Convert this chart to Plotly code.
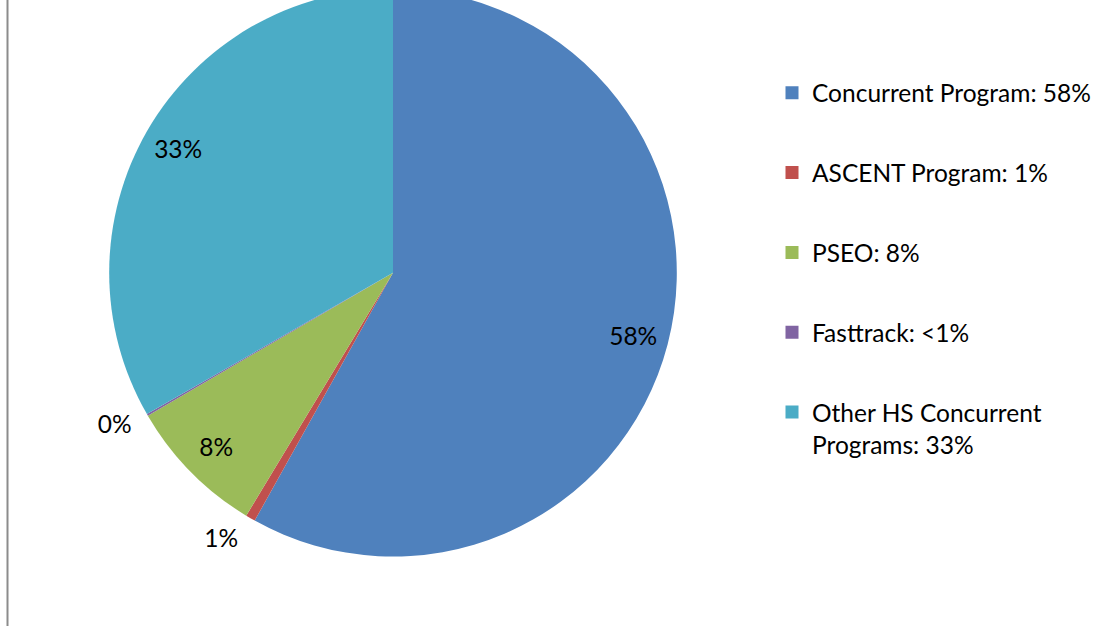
import plotly.graph_objects as go

# ---- data ----
categories = ["Concurrent Program", "ASCENT Program", "PSEO", "Fasttrack",
              "Other HS Concurrent Programs"]
values = [58.1, 0.55, 7.95, 0.1, 33.3]
legend_labels = ["Concurrent Program: 58%", "ASCENT Program: 1%", "PSEO: 8%",
                 "Fasttrack: <1%", "Other HS Concurrent<br>Programs: 33%"]
colors = ["#4F81BD", "#C0504D", "#9BBB59", "#8064A2", "#4BACC6"]
label_positions = ["inside", "outside", "inside", "outside", "inside"]

# ---- layout geometry ----
W, H = 1111, 652
SHIFT = 26            # top of the pie is cropped off by the window
cx, cy, r = 393, 270 + SHIFT, 286
r_lab = 296           # label ring slightly larger so outside labels sit further out


def dom(rad):
    return (dict(x=[(cx - rad) / W, (cx + rad) / W],
                 y=[1 - (cy + rad) / H, 1 - (cy - rad) / H]))


FONT = "Lato"
FS = 24.5

fig = go.Figure()

# solid pie
fig.add_trace(go.Pie(
    labels=categories, values=values, sort=False, direction="clockwise",
    rotation=0, marker=dict(colors=colors, line=dict(width=0)),
    textinfo="none", showlegend=False, domain=dom(r),
    hovertemplate="%{label}: %{percent:.0%}<extra></extra>",
))

# transparent ring carrying the data labels near the rim
fig.add_trace(go.Pie(
    labels=categories, values=values, sort=False, direction="clockwise",
    rotation=0, hole=0.69,
    marker=dict(colors=["rgba(0,0,0,0)"] * len(values), line=dict(width=0)),
    texttemplate="%{percent:.0%}", textposition=label_positions,
    insidetextorientation="horizontal",
    textfont=dict(family=FONT, size=FS, color="#000000"),
    outsidetextfont=dict(family=FONT, size=FS, color="#000000"),
    insidetextfont=dict(family=FONT, size=FS, color="#000000"),
    showlegend=False, hoverinfo="skip", domain=dom(r_lab),
))

# legend entries
for i, lab in enumerate(legend_labels):
    fig.add_trace(go.Scatter(
        x=[None], y=[None], mode="markers", name=lab, legendgroup=str(i),
        marker=dict(symbol="square", size=13, color=colors[i]),
        hoverinfo="skip", showlegend=True,
    ))

fig.update_layout(
    width=W, height=H,
    margin=dict(l=0, r=0, t=0, b=0),
    paper_bgcolor="white", plot_bgcolor="white",
    xaxis=dict(visible=False), yaxis=dict(visible=False),
    showlegend=True,
    legend=dict(
        x=(812 - 40) / W, xanchor="left",
        y=1 - (94 + SHIFT - 28) / H, yanchor="top",
        tracegroupgap=45, valign="top",
        font=dict(family=FONT, size=FS, color="#000000"),
        bgcolor="rgba(0,0,0,0)", itemclick=False, itemdoubleclick=False,
    ),
    shapes=[dict(type="line", xref="paper", yref="paper",
                 x0=7.5 / W, x1=7.5 / W, y0=0, y1=1,
                 line=dict(color="#8C8C8C", width=2))],
)

post = ("document.body.style.margin='0';"
        "document.body.style.overflow='hidden';"
        "document.getElementById('{plot_id}').style.marginTop='-%dpx';" % SHIFT)
fig.write_html("out.html", post_script=post, config={"displayModeBar": False})
